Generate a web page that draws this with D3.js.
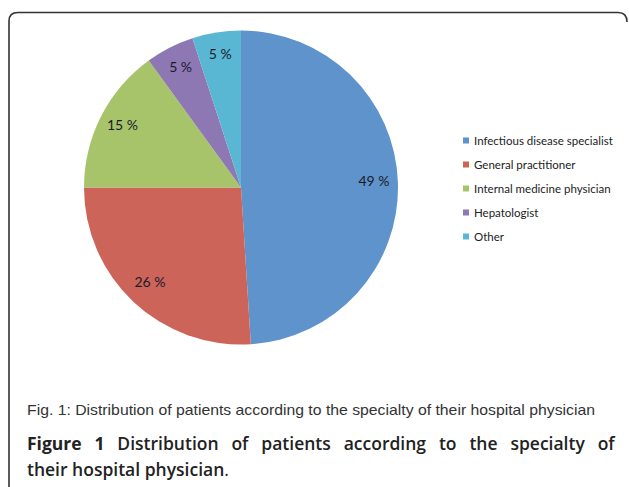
<!DOCTYPE html>
<html>
<head>
<meta charset="utf-8">
<script src="https://cdn.jsdelivr.net/npm/d3@7"></script>
<style>
  body { margin: 0; background: #fff; }
  svg { display: block; }
</style>
</head>
<body>
<div id="chart"></div>
<script>
// chart data
const categories = ["Infectious disease specialist", "General practitioner", "Internal medicine physician", "Hepatologist", "Other"];
const percents = [49, 26, 15, 5, 5];
const colors = ["#5f93cb", "#cc645a", "#a8c46a", "#8e78b3", "#5ab7d3"];
const smallCaption = "Fig. 1: Distribution of patients according to the specialty of their hospital physician";

const width = 629, height = 487;
const cx = 241, cy = 187.5, radius = 157;

const svg = d3.select("#chart")
  .append("svg")
  .attr("width", width)
  .attr("height", height);

// frame round the figure
svg.append("path")
  .attr("d", "M9,487 L9,21 Q9,12.5 18,12.5 L618,12.5 Q627,12.5 627,22")
  .attr("fill", "none")
  .attr("stroke", "#333")
  .attr("stroke-width", 1.6);

const pie = d3.pie().sort(null).value(d => d);
const arcs = pie(percents);

const arc = d3.arc().innerRadius(0).outerRadius(radius);
const labelArc = d3.arc().innerRadius(133).outerRadius(133);

const g = svg.append("g").attr("transform", `translate(${cx},${cy})`);

g.selectAll("path.slice")
  .data(arcs)
  .enter()
  .append("path")
  .attr("class", "slice")
  .attr("d", arc)
  .attr("fill", (d, i) => colors[i]);

g.selectAll("text.lbl")
  .data(arcs)
  .enter()
  .append("text")
  .attr("class", "lbl")
  .attr("transform", d => `translate(${labelArc.centroid(d)})`)
  .attr("text-anchor", "middle")
  .attr("dy", "0.2em")
  .style("font-family", "Lato, 'Open Sans', sans-serif")
  .style("font-size", "14px")
  .style("fill", "#1a1a2a")
  .text(d => d.data + " %");

// legend
const legend = svg.append("g").attr("transform", "translate(463,141)");
const rows = legend.selectAll("g")
  .data(categories)
  .enter()
  .append("g")
  .attr("transform", (d, i) => `translate(0,${i * 24})`);

rows.append("rect")
  .attr("x", 0).attr("y", -3.5)
  .attr("width", 6).attr("height", 6)
  .attr("fill", (d, i) => colors[i]);

rows.append("text")
  .attr("x", 11)
  .attr("dy", "0.35em")
  .style("font-family", "Lato, 'Open Sans', sans-serif")
  .style("font-size", "11.5px")
  .style("fill", "#222")
  .text(d => d);

// captions
svg.append("text")
  .attr("x", 27).attr("y", 415)
  .attr("textLength", 568)
  .attr("lengthAdjust", "spacingAndGlyphs")
  .style("font-family", "'Liberation Sans Narrow', 'Liberation Sans', sans-serif")
  .style("font-size", "14.5px")
  .style("fill", "#333")
  .text(smallCaption);

const cap1 = svg.append("text")
  .attr("x", 27).attr("y", 450)
  .style("font-family", "'Open Sans', sans-serif")
  .style("font-size", "17.5px")
  .style("font-weight", 600)
  .style("fill", "#222");
cap1.append("tspan").style("font-weight", 700).text("Figure 1");
cap1.append("tspan").text(" Distribution of patients according to the specialty of");

// justify first line by word spacing
const natural = cap1.node().getComputedTextLength();
const gaps = 10;
if (natural < 596) cap1.style("word-spacing", ((596 - natural) / gaps) + "px");

const cap2 = svg.append("text")
  .attr("x", 27).attr("y", 476)
  .style("font-family", "'Open Sans', sans-serif")
  .style("font-size", "17.5px")
  .style("font-weight", 600)
  .style("fill", "#222");
cap2.append("tspan").text("their hospital physician");
cap2.append("tspan").style("font-weight", 400).text(".");
</script>
</body>
</html>
